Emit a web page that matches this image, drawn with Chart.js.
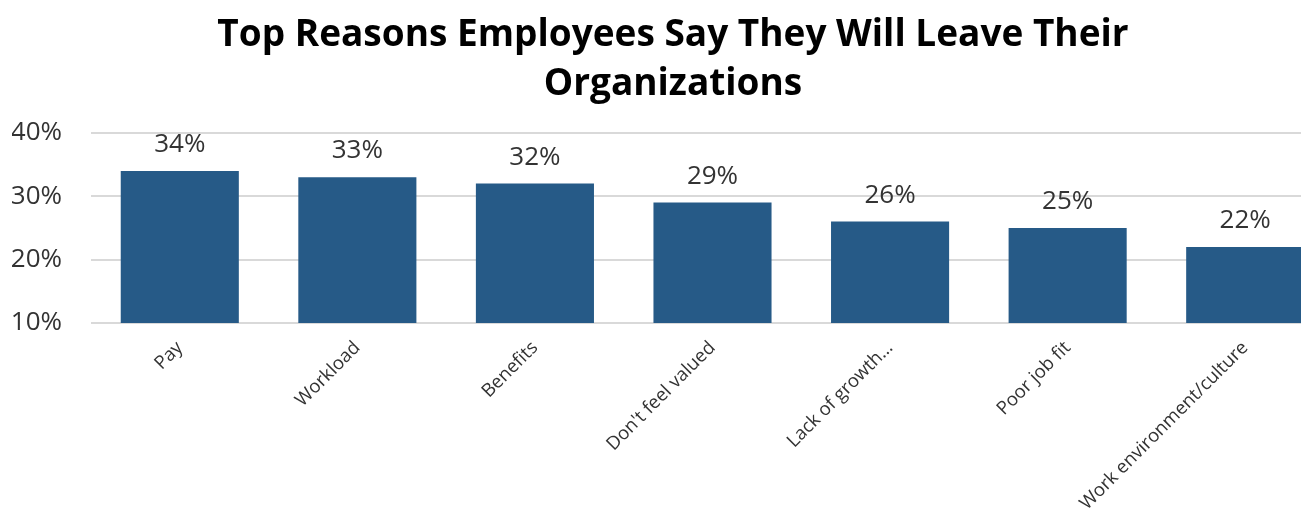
<!DOCTYPE html>
<html>
<head>
<meta charset="utf-8">
<script src="https://cdn.jsdelivr.net/npm/chart.js@4"></script>
<style>
  html, body { margin: 0; padding: 0; overflow: hidden; background: #fff; }
  #wrap { width: 1339px; height: 513px; position: relative; }
</style>
</head>
<body>
<div id="wrap"><canvas id="chart"></canvas></div>
<script>
const reasons = ['Pay', 'Workload', 'Benefits', "Don't feel valued", 'Lack of growth…', 'Poor job fit', 'Work environment/culture'];
const shares = [34, 33, 32, 29, 26, 25, 22];
const yTicks = [10, 20, 30, 40];

const barColor = '#265a87';
const textColor = '#333333';

// Writes each bar's percentage just above its top edge
const valueLabels = {
  id: 'valueLabels',
  afterDatasetsDraw(chart) {
    const ctx = chart.ctx;
    ctx.save();
    ctx.font = '26px "Open Sans"';
    ctx.fillStyle = textColor;
    ctx.textAlign = 'center';
    ctx.textBaseline = 'alphabetic';
    chart.getDatasetMeta(0).data.forEach((bar, i) => {
      ctx.fillText(shares[i] + '%', bar.x, bar.y - 19);
    });
    ctx.restore();
  }
};

new Chart(document.getElementById('chart'), {
  type: 'bar',
  data: {
    labels: reasons,
    datasets: [{
      data: shares,
      backgroundColor: barColor,
      borderWidth: 0,
      categoryPercentage: 1.0,
      barPercentage: 0.665
    }]
  },
  options: {
    responsive: true,
    maintainAspectRatio: false,
    animation: false,
    layout: { padding: { left: 12, right: 5, top: 0, bottom: 0 } },
    plugins: {
      legend: { display: false },
      tooltip: { enabled: false },
      title: {
        display: true,
        text: ['Top Reasons Employees Say They Will Leave Their', 'Organizations'],
        color: '#000',
        font: { family: '"Open Sans"', size: 37, weight: 'bold', lineHeight: 1.35 },
        padding: { top: 10, bottom: 23 }
      }
    },
    scales: {
      x: {
        grid: { display: false, drawTicks: false },
        border: { display: false },
        ticks: {
          color: textColor,
          font: { family: '"Open Sans"', size: 18.5 },
          minRotation: 45,
          maxRotation: 45,
          autoSkip: false,
          padding: 14
        },
        afterFit(scale) {
          scale.paddingLeft = 0;
          scale.paddingRight = 0;
          scale.height = 190;
        }
      },
      y: {
        min: yTicks[0],
        max: yTicks[yTicks.length - 1],
        afterBuildTicks(axis) { axis.ticks = yTicks.map(v => ({ value: v })); },
        grid: { color: '#d9d9d9', lineWidth: 2, drawTicks: false },
        border: { display: false },
        ticks: {
          color: textColor,
          font: { family: '"Open Sans"', size: 26 },
          padding: 29,
          callback: v => v + '%'
        },
        afterFit(scale) {
          scale.width = 79;
        }
      }
    }
  },
  plugins: [valueLabels]
});
</script>
</body>
</html>
